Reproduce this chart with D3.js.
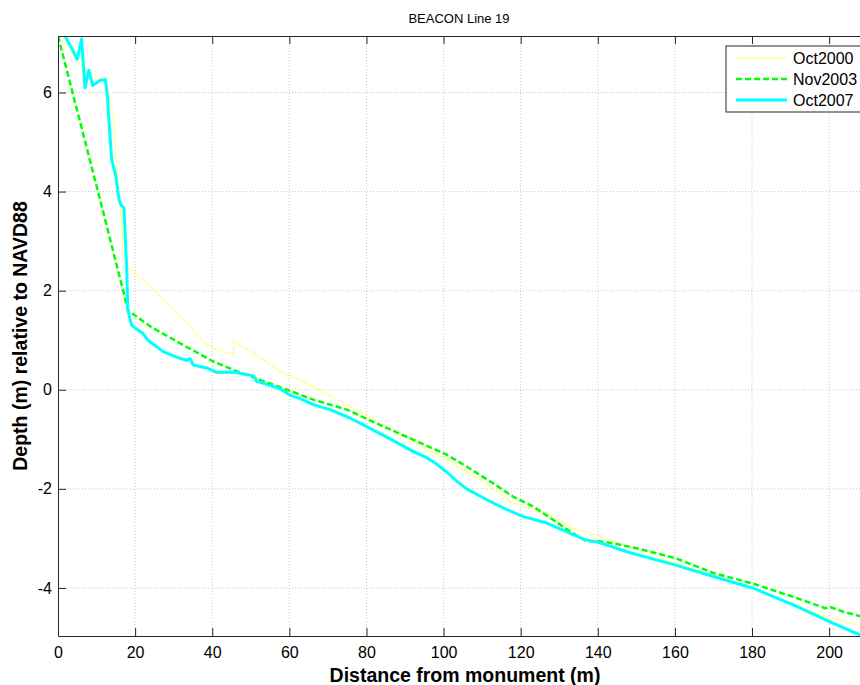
<!DOCTYPE html>
<html>
<head>
<meta charset="utf-8">
<script src="https://cdn.jsdelivr.net/npm/d3@7"></script>
<style>
  body { margin: 0; background: #fff; }
  svg { display: block; font-family: "Liberation Sans", Arial, sans-serif; }
</style>
</head>
<body>
<svg id="chart" width="860" height="685"></svg>
<script>
// profile data: [distance from monument (m), depth rel. NAVD88 (m)]
var oct2000 = [
  [0, 7.14], [2.2, 6.95], [5.7, 6.6], [8, 6.42], [10, 6.33], [12.6, 6.2], [14.4, 5.52],
  [15.2, 4.51], [16.1, 3.84], [16.5, 3.37], [17.0, 2.56], [18.2, 2.48], [23.9, 2.09],
  [31.7, 1.48], [38.6, 0.91], [41.2, 0.81], [45.5, 0.71], [45.6, 0.98], [50.7, 0.74],
  [57.6, 0.37], [62.8, 0.2], [70, -0.1], [79.2, -0.47], [87.9, -0.87], [100.8, -1.41],
  [109.5, -1.82], [118.1, -2.29], [126.8, -2.49], [133.7, -2.8], [140.6, -2.96],
  [160.2, -3.5], [180, -4.0], [200, -4.6], [208, -4.75]
];
var nov2003 = [
  [0, 7.14], [10.9, 3.84], [18.2, 1.6], [23.9, 1.28],
  [31.6, 0.94], [40.3, 0.57], [45.5, 0.4], [52.4, 0.2], [59.4, 0.0], [66.2, -0.2],
  [74.9, -0.4], [83.5, -0.71], [92.2, -1.01], [100.8, -1.31], [106, -1.55], [112.9, -1.89],
  [118.1, -2.16], [123.3, -2.36], [128.5, -2.63], [132.8, -2.86], [137.1, -3.06],
  [140.6, -3.06], [144.1, -3.1], [150.1, -3.2], [160.2, -3.4], [170, -3.7], [180.1, -3.91],
  [190.7, -4.18], [199, -4.41], [200.1, -4.38], [203.7, -4.48], [208, -4.57]
];
var oct2007 = [
  [1.8, 7.14], [3.5, 6.9], [5.0, 6.67], [6.1, 7.08], [7.0, 6.09], [8.0, 6.45], [9.0, 6.14],
  [10.9, 6.24], [12.3, 6.26], [12.8, 5.93], [13.9, 4.65], [15.0, 4.31], [15.8, 3.84],
  [16.4, 3.72], [17.1, 3.67], [17.8, 2.49], [18.1, 1.62], [19.1, 1.3], [20.5, 1.22],
  [22.1, 1.13], [23.3, 1.0], [24.7, 0.92], [27.3, 0.77], [30.4, 0.67], [33.4, 0.59], [34.2, 0.63],
  [35.1, 0.5], [38.6, 0.44], [41.2, 0.35], [45.5, 0.36], [50.7, 0.28], [51.5, 0.17],
  [53.3, 0.13], [57.6, 0.02], [60.2, -0.11], [62.8, -0.18], [66.2, -0.3], [70.6, -0.4],
  [75.7, -0.57], [79.2, -0.71], [86.1, -0.99], [92.2, -1.25], [95.6, -1.37], [98.2, -1.5],
  [100.8, -1.66], [103.5, -1.85], [106.0, -2.0], [111.2, -2.22], [116.4, -2.42], [120.7, -2.56],
  [126.8, -2.69], [132.8, -2.9], [136.5, -3.02], [140.2, -3.08], [148.4, -3.29],
  [160.2, -3.54], [170, -3.77], [180.1, -4.0], [190.7, -4.34], [200.1, -4.68], [208, -4.95]
];

var seriesNames = ['Oct2000', 'Nov2003', 'Oct2007'];
var xTicks = [0, 20, 40, 60, 80, 100, 120, 140, 160, 180, 200];
var yTicks = [-4, -2, 0, 2, 4, 6];

var styles = {
  Oct2000: { color: '#ffff44', width: 1.5, dash: '1.5,1.5' },
  Nov2003: { color: '#00ff00', width: 2.5, dash: '6,3' },
  Oct2007: { color: '#00ffff', width: 3, dash: null }
};

var margin = { top: 36, left: 58 };
var width = 802, height = 600;

var svg = d3.select('#chart');
var g = svg.append('g').attr('transform', 'translate(' + margin.left + ',' + margin.top + ')');

var x = d3.scaleLinear().domain([0, 208]).range([0, width]);
var y = d3.scaleLinear().domain([-4.97, 7.14]).range([height, 0]);

// grid
g.append('g').selectAll('line').data(xTicks.slice(1)).enter().append('line')
    .attr('x1', function(d) { return x(d); }).attr('x2', function(d) { return x(d); })
    .attr('y1', 0).attr('y2', height)
    .attr('stroke', '#c8c8c8').attr('stroke-dasharray', '1,2');
g.append('g').selectAll('line').data(yTicks).enter().append('line')
    .attr('x1', 0).attr('x2', width)
    .attr('y1', function(d) { return y(d); }).attr('y2', function(d) { return y(d); })
    .attr('stroke', '#c8c8c8').attr('stroke-dasharray', '1,2');

svg.append('defs').append('clipPath').attr('id', 'clip')
  .append('rect').attr('width', width).attr('height', height);

var line = d3.line().x(function(d) { return x(d[0]); }).y(function(d) { return y(d[1]); });
var data = { Oct2000: oct2000, Nov2003: nov2003, Oct2007: oct2007 };

var plot = g.append('g').attr('clip-path', 'url(#clip)');
seriesNames.forEach(function(name) {
  var s = styles[name];
  plot.append('path')
      .datum(data[name])
      .attr('d', line)
      .attr('fill', 'none')
      .attr('stroke', s.color)
      .attr('stroke-width', s.width)
      .attr('stroke-dasharray', s.dash)
      .attr('stroke-linejoin', 'round');
});

// axes, ticks point inward; plain hyphen for negatives like the original
var plain = function(d) { return String(d); };
var xAxis = g.append('g').attr('transform', 'translate(0,' + height + ')')
    .call(d3.axisBottom(x).tickValues(xTicks).tickFormat(plain).tickSize(-8).tickPadding(11).tickSizeOuter(0));
var xTop = g.append('g')
    .call(d3.axisTop(x).tickValues(xTicks.slice(1)).tickSize(-8).tickFormat('').tickSizeOuter(0));
var yAxis = g.append('g')
    .call(d3.axisLeft(y).tickValues(yTicks).tickFormat(plain).tickSize(-8).tickPadding(6).tickSizeOuter(0));

[xAxis, xTop, yAxis].forEach(function(a) {
  a.select('.domain').attr('stroke', '#262626');
  a.selectAll('.tick line').attr('stroke', '#262626');
  a.selectAll('.tick text').attr('fill', '#000').style('font-size', '16px')
    .style('font-family', '"Liberation Sans", Arial, sans-serif');
});

// labels
svg.append('text').attr('x', 459).attr('y', 23).attr('text-anchor', 'middle')
    .style('font-size', '13px').text('BEACON Line 19');
svg.append('text').attr('x', 465).attr('y', 682).attr('text-anchor', 'middle')
    .style('font-size', '19.5px').style('font-weight', 'bold').text('Distance from monument (m)');
svg.append('text').attr('transform', 'translate(27,336) rotate(-90)').attr('text-anchor', 'middle')
    .style('font-size', '19.5px').style('font-weight', 'bold').text('Depth (m) relative to NAVD88');

// legend
var leg = svg.append('g').attr('transform', 'translate(726,46)');
leg.append('rect').attr('width', 150).attr('height', 66)
    .attr('fill', '#fff').attr('stroke', '#262626');
seriesNames.forEach(function(name, i) {
  var s = styles[name];
  var ly = 12 + i * 21;
  leg.append('line').attr('x1', 10).attr('x2', 61).attr('y1', ly).attr('y2', ly)
      .attr('stroke', s.color).attr('stroke-width', s.width).attr('stroke-dasharray', s.dash);
  leg.append('text').attr('x', 67).attr('y', ly).attr('dy', '0.35em')
      .style('font-size', '16px').text(name);
});
</script>
</body>
</html>
